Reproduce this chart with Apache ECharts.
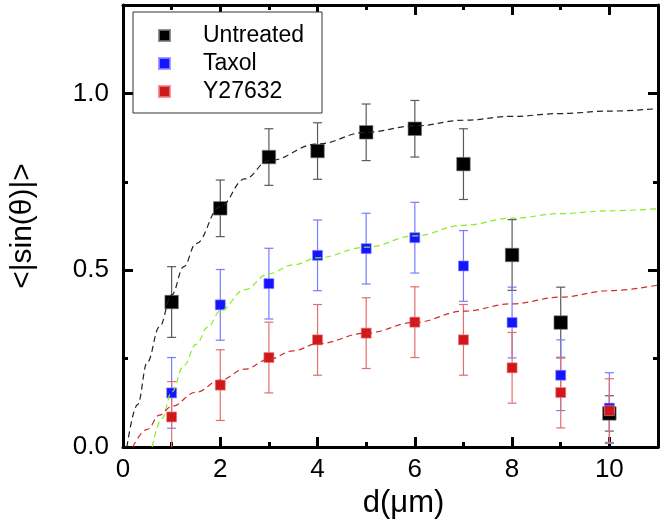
<!DOCTYPE html>
<html>
<head>
<meta charset="utf-8">
<script src="https://cdn.jsdelivr.net/npm/echarts@6/dist/echarts.min.js"></script>
<style>
html,body{margin:0;padding:0;background:#fff;}
#chart{width:664px;height:530px;}
</style>
</head>
<body>
<div id="chart"></div>
<script>
// ---- data ----
const xs = [1, 2, 3, 4, 5, 6, 7, 8, 9, 10];
const untreated    = [0.41, 0.675, 0.82, 0.837, 0.89, 0.90, 0.80, 0.543, 0.352, 0.095];
const untreatedErr = [0.10, 0.08, 0.08, 0.08, 0.08, 0.08, 0.10, 0.10, 0.10, 0.05];
const taxol        = [0.153, 0.402, 0.462, 0.542, 0.561, 0.592, 0.512, 0.352, 0.203, 0.11];
const taxolErr     = [0.10, 0.10, 0.10, 0.10, 0.10, 0.10, 0.10, 0.10, 0.10, 0.10];
const y27632       = [0.085, 0.175, 0.253, 0.303, 0.322, 0.353, 0.303, 0.224, 0.154, 0.103];
const y27632Err    = [0.10, 0.10, 0.10, 0.10, 0.10, 0.10, 0.10, 0.10, 0.10, 0.09];

const fitUntreatedX = [0.08, 0.3, 0.5, 0.75, 1, 1.25, 1.5, 2, 2.5, 3, 4, 5, 6, 7, 8, 9, 10, 11];
const fitUntreatedY = [0, 0.12, 0.24, 0.34, 0.43, 0.51, 0.575, 0.68, 0.758, 0.81, 0.857, 0.89, 0.908, 0.924, 0.935, 0.943, 0.95, 0.957];
const fitTaxolX = [0.6, 0.8, 1, 1.25, 1.5, 1.75, 2, 2.5, 3, 3.5, 4, 5, 6, 7, 8, 9, 10, 11];
const fitTaxolY = [0, 0.08, 0.155, 0.23, 0.29, 0.34, 0.385, 0.445, 0.49, 0.515, 0.535, 0.565, 0.597, 0.627, 0.647, 0.66, 0.668, 0.674];
const fitYX = [0.2, 0.5, 0.75, 1, 1.5, 2, 2.5, 3, 3.5, 4, 5, 6, 7, 8, 9, 10, 11];
const fitYY = [0, 0.05, 0.09, 0.115, 0.155, 0.189, 0.22, 0.248, 0.272, 0.292, 0.322, 0.352, 0.384, 0.405, 0.424, 0.442, 0.458];

const xTickLabels = ['0', '2', '4', '6', '8', '10'];
const yTickLabels = ['0.0', '0.5', '1.0'];

const FONT = '"Liberation Sans", Arial, sans-serif';

function pairs(x, y) { return x.map((v, i) => [v, y[i]]); }
function triples(x, y, e) { return x.map((v, i) => [v, y[i], e[i]]); }

function errRender(color) {
  return function (params, api) {
    const x = api.value(0), y = api.value(1), e = api.value(2);
    const top = api.coord([x, y + e]);
    const bot = api.coord([x, y - e]);
    const hw = 4.5;
    const cs = params.coordSys;
    const st = { stroke: color, lineWidth: 1.2 };
    return {
      type: 'group',
      clipPath: { type: 'rect', shape: { x: cs.x, y: cs.y, width: cs.width, height: cs.height } },
      children: [
        { type: 'line', shape: { x1: top[0], y1: top[1], x2: bot[0], y2: bot[1] }, style: st },
        { type: 'line', shape: { x1: top[0] - hw, y1: top[1], x2: top[0] + hw, y2: top[1] }, style: st },
        { type: 'line', shape: { x1: bot[0] - hw, y1: bot[1], x2: bot[0] + hw, y2: bot[1] }, style: st }
      ]
    };
  };
}

function errSeries(data, color) {
  return {
    type: 'custom', renderItem: errRender(color), data: data,
    clip: true, silent: true, z: 2,
    encode: { x: 0, y: 1 }
  };
}

const axisLineStyle = { color: '#000', width: 3 };

const xAxisBase = {
  type: 'value', min: 0, max: 11, interval: 2,
  axisLine: { show: true, onZero: false, lineStyle: axisLineStyle },
  axisTick: { show: true, inside: true, length: 10, lineStyle: { color: '#000', width: 3 } },
  minorTick: { show: true, splitNumber: 2, length: 5, lineStyle: { color: '#000', width: 3 } },
  splitLine: { show: false },
  minorSplitLine: { show: false }
};
const yAxisBase = {
  type: 'value', min: 0, max: 1.25, interval: 0.5,
  axisLine: { show: true, onZero: false, lineStyle: axisLineStyle },
  axisTick: { show: true, inside: true, length: 10, lineStyle: { color: '#000', width: 3 } },
  minorTick: { show: true, splitNumber: 2, length: 5, lineStyle: { color: '#000', width: 3 } },
  splitLine: { show: false },
  minorSplitLine: { show: false }
};

const chart = echarts.init(document.getElementById('chart'), null, { renderer: 'canvas' });

chart.setOption({
  animation: false,
  backgroundColor: '#fff',
  grid: { left: 118, right: 6, top: 5, bottom: 83, containLabel: false },
  legend: {
    orient: 'vertical', left: 133, top: 12,
    padding: [12, 18, 10, 25],
    itemGap: 5,
    itemWidth: 11, itemHeight: 11,
    borderColor: '#333', borderWidth: 1, backgroundColor: '#fff',
    textStyle: { fontFamily: FONT, fontSize: 23, color: '#000', lineHeight: 23, padding: [0, 0, 0, 28] },
    data: [
      { name: 'Untreated', icon: 'rect' },
      { name: 'Taxol', icon: 'rect' },
      { name: 'Y27632', icon: 'rect' }
    ]
  },
  xAxis: [
    Object.assign({}, xAxisBase, {
      position: 'bottom',
      name: 'd(μm)', nameLocation: 'middle', nameGap: 40,
      nameTextStyle: { fontFamily: FONT, fontSize: 31, color: '#000', padding: [0, 0, 0, 26] },
      axisLabel: {
        show: true, margin: 10, fontFamily: FONT, fontSize: 26, color: '#000',
        showMaxLabel: false,
        formatter: function (v) { const i = xTickLabels.indexOf(String(v)); return i >= 0 ? xTickLabels[i] : ''; }
      }
    }),
    Object.assign({}, xAxisBase, { position: 'top', axisLabel: { show: false } })
  ],
  yAxis: [
    Object.assign({}, yAxisBase, {
      position: 'left',
      name: '<|sin(θ)|>', nameLocation: 'middle', nameGap: 85,
      nameTextStyle: { fontFamily: FONT, fontSize: 30, color: '#000' },
      axisLabel: {
        show: true, margin: 14, fontFamily: FONT, fontSize: 26, color: '#000',
        showMaxLabel: false,
        formatter: function (v) { const s = v.toFixed(1); return yTickLabels.indexOf(s) >= 0 ? s : ''; }
      }
    }),
    Object.assign({}, yAxisBase, { position: 'right', axisLabel: { show: false } })
  ],
  series: [
    errSeries(triples(xs, untreated, untreatedErr), '#5a5a5a'),
    {
      name: 'Untreated', type: 'scatter', symbol: 'rect', symbolSize: 13.5, z: 3,
      itemStyle: { color: '#000', borderColor: 'rgba(120,120,120,0.8)', borderWidth: 0.8, opacity: 1 },
      data: pairs(xs, untreated)
    },
    errSeries(triples(xs, taxol, taxolErr), '#7a7aff'),
    {
      name: 'Taxol', type: 'scatter', symbol: 'rect', symbolSize: 10, z: 3,
      itemStyle: { color: '#1414ff', borderColor: 'rgba(140,140,255,0.8)', borderWidth: 0.8, opacity: 1 },
      data: pairs(xs, taxol)
    },
    errSeries(triples(xs, y27632, y27632Err), '#e26e6e'),
    {
      name: 'Y27632', type: 'scatter', symbol: 'rect', symbolSize: 10, z: 3,
      itemStyle: { color: '#d0181c', borderColor: 'rgba(235,130,130,0.8)', borderWidth: 0.8, opacity: 1 },
      data: pairs(xs, y27632)
    },
    {
      name: 'fitUntreated', type: 'line', showSymbol: false, smooth: 0.4, smoothMonotone: 'x', z: 4,
      lineStyle: { color: '#222', width: 1.2, type: [6, 4] },
      data: pairs(fitUntreatedX, fitUntreatedY), silent: true
    },
    {
      name: 'fitTaxol', type: 'line', showSymbol: false, smooth: 0.4, smoothMonotone: 'x', z: 4,
      lineStyle: { color: '#88ee22', width: 1.2, type: [6, 4] },
      data: pairs(fitTaxolX, fitTaxolY), silent: true
    },
    {
      name: 'fitY', type: 'line', showSymbol: false, smooth: 0.4, smoothMonotone: 'x', z: 4,
      lineStyle: { color: '#d42a2a', width: 1.2, type: [6, 4] },
      data: pairs(fitYX, fitYY), silent: true
    }
  ]
});
</script>
</body>
</html>
